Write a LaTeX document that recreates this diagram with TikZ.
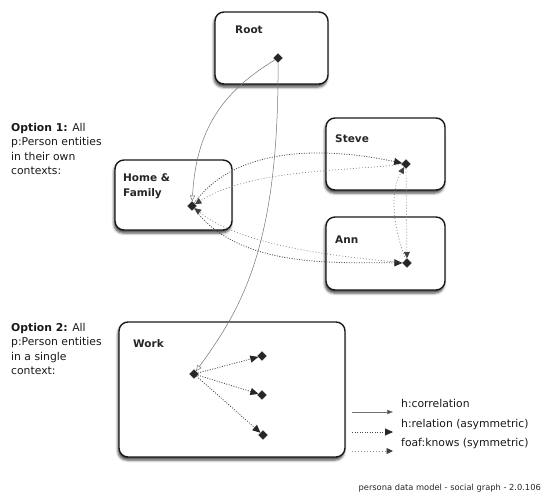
\documentclass[tikz,border=0pt]{standalone}
\usepackage{fontspec}
\setmainfont{DejaVu Sans}
\usetikzlibrary{shapes.geometric,arrows.meta,shadows.blur}
\begin{document}
\begin{tikzpicture}[x=1pt,y=-1pt,
  ctxbox/.style={draw=black!90, line width=1.4pt, rounded corners=9pt, fill=white,
    inner sep=0pt,
    blur shadow={shadow xshift=-1pt, shadow yshift=-3pt, shadow blur radius=2.5pt, shadow opacity=75}},
  ent/.style={diamond, fill=black!85, draw=black!85, inner sep=0pt, minimum size=9pt},
  lbl/.style={font=\fontsize{10.8}{14}\selectfont, inner sep=0pt, text=black!90},
  ttl/.style={font=\fontsize{10.5}{14}\selectfont\bfseries, inner sep=0pt, text=black!85},
  note/.style={font=\fontsize{10.8}{14.3}\selectfont, inner sep=0pt, align=left, anchor=north west, text=black!90},
  corr/.style={draw=black!55, line width=0.5pt, -{Triangle[open,length=6pt,width=5pt]}},
  rel/.style={draw=black!70, line width=0.8pt, dash pattern=on 1pt off 1.5pt,
    -{Triangle[length=8pt,width=7pt,color=black!85,fill=black!85]}},
  knows/.style={draw=black!45, line width=0.7pt, dash pattern=on 1pt off 2pt,
    -{Triangle[length=6.5pt,width=6pt,fill=black!75,color=black!75]}}
]
\useasboundingbox (0,0) rectangle (545,498);

% context boxes
\node[ctxbox, minimum width=113pt, minimum height=72pt] (root) at (271.5,48) {};
\node[ctxbox, minimum width=117pt, minimum height=70pt] (home) at (173.5,195) {};
\node[ctxbox, minimum width=119pt, minimum height=72pt] (steve) at (385.5,154) {};
\node[ctxbox, minimum width=119pt, minimum height=73pt] (ann) at (385.5,253.5) {};
\node[ctxbox, minimum width=226pt, minimum height=135pt] (work) at (232,389.5) {};

% box titles
\node[ttl, anchor=base west] (rootlbl) at (235,33) {Root};
\node[ttl, anchor=base west] (homelbl1) at (123,181) {Home \&};
\node[ttl, anchor=base west] (homelbl2) at (123,196) {Family};
\node[ttl, anchor=base west] (stevelbl) at (335,142) {Steve};
\node[ttl, anchor=base west] (annlbl) at (335,243) {Ann};
\node[ttl, anchor=base west] (worklbl) at (133,347) {Work};

% side notes
\node[note] (opt1) at (11,123) {\textbf{Option 1:} All\\p:Person entities\\in their own\\contexts:};
\node[note] (opt2) at (11,323) {\textbf{Option 2:} All\\p:Person entities\\in a single\\context:};

% entities
\node[ent] (rootd) at (278,58) {};
\node[ent] (homed) at (192,206) {};
\node[ent] (steved) at (406,164) {};
\node[ent] (annd) at (407,263) {};
\node[ent] (workd) at (194,374) {};
\node[ent] (w1) at (262,356) {};
\node[ent] (w2) at (262,395) {};
\node[ent] (w3) at (263,435) {};

% correlations from the root
\draw[corr] (rootd) .. controls (222,92) and (196,130) .. (homed);
\draw[corr] (rootd) .. controls (279,250) and (240,310) .. (workd);

% option 1: people in their own contexts
\draw[rel] (homed) .. controls (240,140) and (340,150) .. (steved);
\draw[knows] (steved) .. controls (330,172) and (250,170) .. (homed);
\draw[rel] (homed) .. controls (240,270) and (340,262) .. (annd);
\draw[knows] (annd) .. controls (330,256) and (240,245) .. (homed);
\draw[knows] (steved) -- (annd);
\draw[knows] (annd) .. controls (395,232) and (388,195) .. (steved);

% option 2: people in a single context
\draw[rel] (workd) -- (w1);
\draw[rel] (workd) -- (w2);
\draw[rel] (workd) -- (w3);

% legend
\coordinate (lg1a) at (352,412);
\coordinate (lg1b) at (393,412);
\coordinate (lg2a) at (352,432);
\coordinate (lg2b) at (393,432);
\coordinate (lg3a) at (352,451);
\coordinate (lg3b) at (393,451);
\draw[corr, -{Triangle[length=6pt,width=4.5pt,fill=black!70]}] (lg1a) -- (lg1b);
\draw[rel] (lg2a) -- (lg2b);
\draw[knows] (lg3a) -- (lg3b);
\node[lbl, anchor=base west] (lgt1) at (401,407) {h:correlation};
\node[lbl, anchor=base west] (lgt2) at (401,427) {h:relation (asymmetric)};
\node[lbl, anchor=base west] (lgt3) at (401,446) {foaf:knows (symmetric)};

% footer
\node[inner sep=0pt, anchor=base east, font=\fontsize{8.3}{10}\selectfont, text=black!85] (footer) at (541,490) {persona data model - social graph - 2.0.106};
\end{tikzpicture}
\end{document}
